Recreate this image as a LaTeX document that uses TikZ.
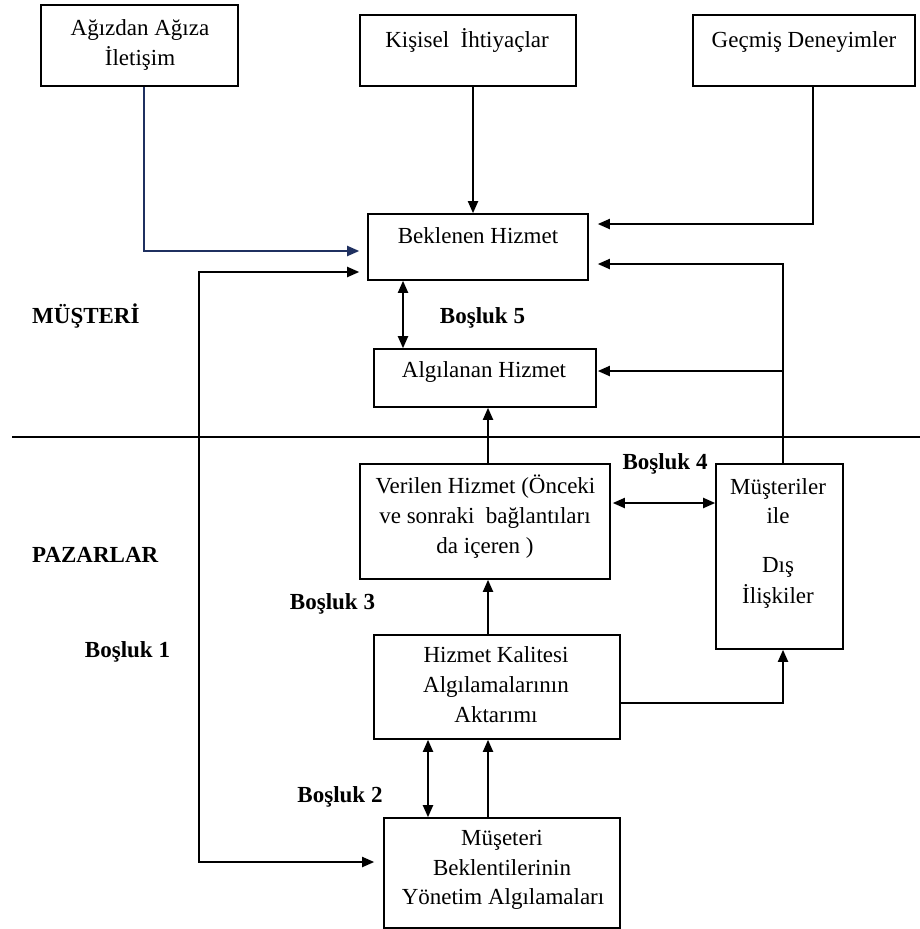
\documentclass[tikz,border=0pt]{standalone}
\usepackage{fontspec}
\setmainfont{Liberation Serif}
\usetikzlibrary{arrows.meta}
\definecolor{navyline}{HTML}{1F3060}
\begin{document}
\begin{tikzpicture}[x=1pt,y=-1pt,
  box/.style={draw, line width=1.6pt, inner sep=0pt},
  txt/.style={font=\fontsize{23}{30}\selectfont, inner sep=0pt, anchor=base},
  lbl/.style={font=\fontsize{23}{30}\selectfont\bfseries, inner sep=0pt, anchor=base},
  conn/.style={line width=1.9pt},
  >={Triangle[length=12pt,width=10pt]}]
\useasboundingbox (0,0) rectangle (920,929);
% boxes
\node[box, minimum width=197pt, minimum height=81pt] (agiz) at (139.5,45.5) {};
\node[box, minimum width=216pt, minimum height=71pt] (kis) at (468,50.5) {};
\node[box, minimum width=222pt, minimum height=71pt] (gec) at (804,50.5) {};
\node[box, minimum width=220pt, minimum height=66pt] (bek) at (478,247) {};
\node[box, minimum width=222pt, minimum height=58pt] (alg) at (485,378) {};
\node[box, minimum width=250pt, minimum height=115pt] (ver) at (485,521.5) {};
\node[box, minimum width=127pt, minimum height=185pt] (mus) at (779.5,556.5) {};
\node[box, minimum width=246pt, minimum height=104pt] (hiz) at (497,687) {};
\node[box, minimum width=236pt, minimum height=110pt] (mbek) at (502,873) {};
% texts
\node[txt] (agiz1) at (140,35) {Ağızdan Ağıza};
\node[txt] (agiz2) at (140,65) {İletişim};
\node[txt] (kis1) at (467,47) {Kişisel\ \ İhtiyaçlar};
\node[txt] (gec1) at (804,47) {Geçmiş Deneyimler};
\node[txt] (bek1) at (478,243) {Beklenen Hizmet};
\node[txt] (alg1) at (484,377) {Algılanan Hizmet};
\node[txt] (ver1) at (485.5,493) {Verilen Hizmet (Önceki};
\node[txt] (ver2) at (485,523) {ve sonraki\ \ bağlantıları};
\node[txt] (ver3) at (485,553) {da içeren )};
\node[txt] (mus1) at (778,494) {Müşteriler};
\node[txt] (mus2) at (778,523) {ile};
\node[txt] (mus3) at (778,572) {Dış};
\node[txt] (mus4) at (778,603) {İlişkiler};
\node[txt] (hiz1) at (496,662) {Hizmet Kalitesi};
\node[txt] (hiz2) at (496,692) {Algılamalarının};
\node[txt] (hiz3) at (496,722) {Aktarımı};
\node[txt] (mbek1) at (502,845) {Müşeteri};
\node[txt] (mbek2) at (502,875) {Beklentilerinin};
\node[txt] (mbek3) at (503,904) {Yönetim Algılamaları};
% labels
\node[lbl, anchor=base west] (musteri) at (32,323) {MÜŞTERİ};
\node[lbl, anchor=base west] (pazar) at (32,562) {PAZARLAR};
\node[lbl] (b5) at (482.5,323) {Boşluk 5};
\node[lbl] (b4) at (665,469) {Boşluk 4};
\node[lbl] (b3) at (332.5,609) {Boşluk 3};
\node[lbl] (b1) at (127.5,657) {Boşluk 1};
\node[lbl] (b2) at (340,802) {Boşluk 2};
% divider
\draw[line width=1.6pt] (12,437) -- (920,437);
% connectors
\draw[conn, draw=navyline, ->] (144,0 |- agiz.south) |- ([xshift=-8pt]bek.west |- 0,251);
\draw[conn, <->] ([xshift=-8pt]bek.west |- 0,272) -| (199,862) -- ([xshift=-9pt]mbek.west |- 0,862);
\draw[conn, ->] (473,0 |- kis.south) -- (473,0 |- bek.north);
\draw[conn, ->] (813,0 |- gec.south) |- ([xshift=9pt]bek.east |- 0,224);
\draw[conn, ->] (783,0 |- mus.north) |- ([xshift=9pt]bek.east |- 0,264);
\coordinate (br) at (783,371);
\draw[conn, ->] (br) -- ([xshift=1pt]alg.east |- br);
\draw[conn, <->] (403,0 |- bek.south) -- (403,0 |- alg.north);
\draw[conn, ->] (488,0 |- ver.north) -- (488,0 |- alg.south);
\draw[conn, <->] ([xshift=2pt]ver.east |- 0,503) -- (mus.west |- 0,503);
\draw[conn, ->] (488,0 |- hiz.north) -- (488,0 |- ver.south);
\draw[conn, ->] (hiz.east |- 0,703) -| (783,0 |- mus.south);
\draw[conn, <->] (428,0 |- hiz.south) -- (428,0 |- mbek.north);
\draw[conn, ->] (488,0 |- mbek.north) -- (488,0 |- hiz.south);
\end{tikzpicture}
\end{document}
